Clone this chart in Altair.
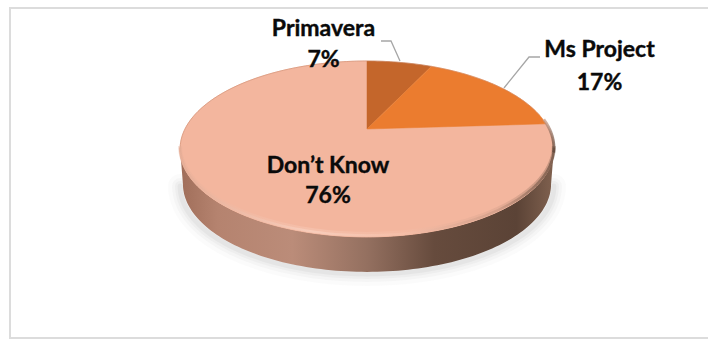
import math
import altair as alt
import pandas as pd

# Pie shares in clockwise order from twelve o'clock
categories = ["Primavera", "Ms Project", "Don’t Know"]
shares = [7, 17, 76]
slice_colors = ["#C4662B", "#EB7C2F", "#F3B69E"]

# Tilted-disc geometry, in page units
CX, CY = 367, 129
SX, SY = 182, 83.4
TILT = 0.227
DEPTH = 35


def rim(deg):
    t = math.radians(deg)
    w = 1 + TILT * math.cos(t)
    return CX + SX * math.sin(t) / w, CY - SY * math.cos(t) / w


def wedge(start, end):
    n = max(2, int(end - start))
    pts = [(CX, CY)] + [rim(start + (end - start) * i / n) for i in range(n + 1)] + [(CX, CY)]
    return pd.DataFrame({"x": [p[0] for p in pts], "y": [p[1] for p in pts], "o": range(len(pts))})


def front(offset=0.0, a=None, b=None):
    edge = math.degrees(math.acos(-TILT))
    a = edge if a is None else a
    b = 360 - edge if b is None else b
    pts = [rim(a + (b - a) * i / 120) for i in range(121)]
    return pd.DataFrame(
        {"x": [p[0] for p in pts], "y": [p[1] + offset for p in pts], "o": range(121)}
    )


X = alt.X("x:Q", scale=alt.Scale(domain=[0, 708], nice=False, zero=False), axis=None)
Y = alt.Y("y:Q", scale=alt.Scale(domain=[339, 0], nice=False, zero=False), axis=None)
O = alt.Order("o:Q")


def gradient(stops, vertical=False):
    return alt.Gradient(
        gradient="linear",
        x1=0, x2=0 if vertical else 1, y1=0, y2=1 if vertical else 0,
        stops=[alt.GradientStop(offset=o, color=c) for o, c in stops],
    )


def outline(df, **style):
    return alt.Chart(df).mark_line(**style).encode(x=X, y=Y, order=O)


layers = []

# Page frame: open on the right-hand side
frame = pd.DataFrame({"x": [708, 10, 10, 708], "y": [8, 8, 338, 338], "o": range(4)})
layers.append(outline(frame, stroke="#DCDCDC", strokeWidth=2))

# Soft shadow under the disc
for width, alpha in [(24, 0.035), (16, 0.05), (10, 0.06), (5, 0.08)]:
    layers.append(outline(front(DEPTH + 2), stroke="#808080", strokeWidth=width, opacity=alpha, strokeCap="round"))

# Side wall of the disc, its lower edge drawn slightly narrower than the top
upper = front(0)
lower = front(DEPTH).iloc[::-1]
wall = pd.DataFrame(
    {
        "x": list(upper["x"]) + [CX + (v - CX) * 0.985 for v in lower["x"]] + [upper["x"].iloc[0]],
        "y": list(upper["y"]) + list(lower["y"]) + [upper["y"].iloc[0]],
    }
)
wall["o"] = range(len(wall))
layers.append(
    outline(
        wall,
        strokeWidth=0,
        fill=gradient(
            [
                (0.0, "#A06E5A"),
                (0.1, "#B5836F"),
                (0.3, "#BB8C79"),
                (0.5, "#947060"),
                (0.68, "#664B3D"),
                (0.9, "#5B4336"),
                (1.0, "#80614F"),
            ]
        ),
    )
)

# Top face: the largest slice sits underneath the two smaller ones
angles = [0]
for s in shares:
    angles.append(angles[-1] + s * 3.6)
layers.append(
    outline(
        wedge(angles[2], angles[3]), fill=slice_colors[2], stroke=slice_colors[2], strokeWidth=1
    )
)
layers.append(
    outline(wedge(angles[0], angles[1]), fill=slice_colors[0], stroke=slice_colors[0], strokeWidth=0.5)
)
layers.append(
    outline(wedge(angles[1], angles[2]), fill=slice_colors[1], stroke=slice_colors[1], strokeWidth=0.5)
)

# Thin darker edge along the back of the disc
layers.append(outline(front(0, 255, 440), stroke="#C98A6E", strokeWidth=1, opacity=0.5))

# Bevel along the rim: pale on the lit side, fading into the dark side
bevel = gradient(
    [(0, "#E5AD96"), (0.35, "#F9D0BF"), (0.6, "#F5BFA9"), (0.85, "#D09D88"), (1, "#6F5444")]
)
layers.append(outline(front(-3), stroke=bevel, strokeWidth=4, opacity=0.35))
layers.append(outline(front(-1.5), stroke=bevel, strokeWidth=2.5, opacity=0.8))
layers.append(
    outline(
        front(-1, 84, 106),
        stroke=gradient([(0, "#C99C88"), (0.6, "#7A5C4D"), (1, "#5B4336")], vertical=True),
        strokeWidth=3,
        opacity=0.75,
    )
)

# Leader lines
leaders = [
    ([381, 391, 400], [41, 41, 61]),
    ([540, 529, 504], [57, 57, 88]),
]
for xs, ys in leaders:
    layers.append(
        outline(pd.DataFrame({"x": xs, "y": ys, "o": range(3)}), stroke="#A6A6A6", strokeWidth=1.3)
    )

# Slice labels, name above share
anchors = [(323.5, 29, 60), (599.5, 50, 83), (328, 166, 196)]
rows = []
for name, share, (ax, y1, y2) in zip(categories, shares, anchors):
    rows.append({"x": ax, "y": y1, "t": name})
    rows.append({"x": ax, "y": y2, "t": f"{share}%"})
layers.append(
    alt.Chart(pd.DataFrame(rows))
    .mark_text(
        font="Lato",
        fontWeight="bold",
        fontSize=23,
        color="#0A0A0A",
        stroke="#0A0A0A",
        strokeWidth=0.4,
        align="center",
        baseline="middle",
    )
    .encode(x=X, y=Y, text="t:N")
)

chart = (
    alt.layer(*layers)
    .properties(
        width=708,
        height=339,
        padding=0,
        background="white",
        autosize=alt.AutoSizeParams(type="none"),
    )
    .configure_view(stroke=None)
)

chart.save("out.html", embed_options={"renderer": "svg", "actions": False})
